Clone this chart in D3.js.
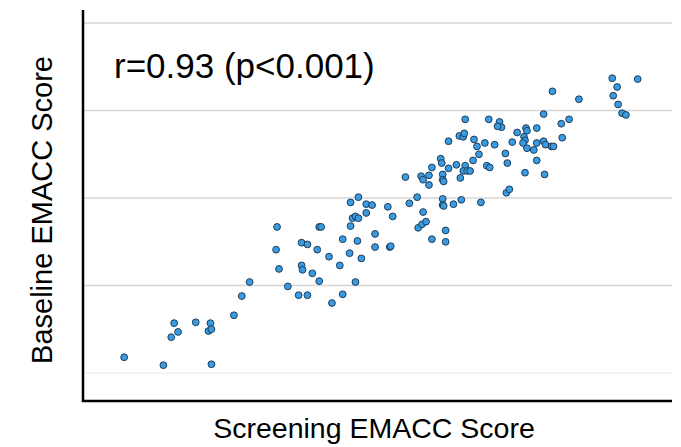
<!DOCTYPE html>
<html>
<head>
<meta charset="utf-8">
<script src="https://cdn.jsdelivr.net/npm/d3@7"></script>
<style>
  body { margin: 0; background: #fff; }
  text { font-family: "Liberation Sans", Arial, sans-serif; fill: #000; }
</style>
</head>
<body>
<div id="chart"></div>
<script>
// screening (x) vs baseline (y) scores
var screening = [
  -2.59, -2.19, -1.70, -2.11, -2.08, -2.04, -1.86, -1.71, -1.73, -1.70, -1.47, -1.39, -1.31,
  -1.03, -1.04, -1.01, -0.92, -0.81, -0.72, -0.78, -0.72, -0.78, -0.77, -0.67, -0.60, -0.58,
  -0.62, -0.60, -0.50, -0.47, -0.36, -0.39, -0.36, -0.29, -0.23, -0.17, -0.21, -0.28, -0.26,
  -0.23, -0.20, -0.12, -0.28, -0.20, -0.12, -0.06, -0.03, -0.03, 0.10, 0.15, 0.12, 0.13,
  0.32, 0.40, 0.46, 0.41, 0.45, 0.49, 0.55, 0.69, 0.69, 0.66, 0.66, 0.67, 0.77, 0.85, 1.05,
  1.31, 1.34,
  0.28, 0.44, 0.46, 0.52, 0.55, 0.52, 0.64, 0.65, 0.66, 0.66, 0.67, 0.72, 0.80, 0.89, 0.87,
  0.91, 0.94, 0.84, 0.97, 1.03, 1.11, 1.14,
  0.89, 1.13, 1.24, 1.26, 1.22, 0.72, 0.83, 0.87, 0.88, 0.98, 1.01, 1.09, 1.19, 1.37, 1.42,
  1.51, 1.52, 1.49, 1.50, 1.48, 1.52, 1.62, 1.62, 1.59, 1.62, 1.30, 1.32, 1.50, 1.70, 1.69,
  1.71, 1.77, 1.79, 2.39, 2.65, 2.44, 2.40, 2.45, 2.49, 2.53, 1.78, 2.05, 1.69, 1.95, 1.87,
  1.88
];
var baseline = [
  -1.82, -1.91, -1.90, -1.59, -1.43, -1.53, -1.42, -1.43, -1.52, -1.50, -1.34, -1.12, -0.96,
  -0.33, -0.59, -0.81, -1.01, -1.11, -1.11, -0.51, -0.53, -0.77, -0.82, -0.86, -0.33, -0.33,
  -0.59, -0.95, -0.67, -1.20, -0.47, -0.77, -1.10, -0.63, -0.96, -0.69, -0.49, -0.32, -0.23,
  -0.21, -0.23, -0.17, -0.05, 0.01, -0.07, -0.08, -0.41, -0.56, -0.10, -0.21, -0.56, -0.55,
  -0.06, 0.01, -0.16, -0.34, -0.30, -0.27, -0.47, -0.37, -0.50, -0.01, -0.08, -0.09, -0.07,
  -0.02, -0.05, 0.06, 0.10,
  0.24, 0.25, 0.21, 0.26, 0.35, 0.15, 0.45, 0.40, 0.27, 0.21, 0.19, 0.34, 0.38, 0.37, 0.31,
  0.31, 0.31, 0.23, 0.43, 0.50, 0.37, 0.35,
  0.90, 0.90, 0.87, 0.81, 0.82, 0.65, 0.71, 0.70, 0.74, 0.67, 0.59, 0.63, 0.61, 0.64, 0.75,
  0.80, 0.77, 0.70, 0.66, 0.63, 0.57, 0.80, 0.63, 0.55, 0.43, 0.51, 0.40, 0.29, 0.27, 0.65,
  0.61, 0.59, 0.59, 1.37, 1.36, 1.27, 1.17, 1.07, 0.97, 0.95, 1.22, 1.13, 0.96, 0.90, 0.85,
  0.69
];
var gridValues = [-2, -1, 0, 1, 2];
var statLabel = "r=0.93 (p<0.001)";
var xTitle = "Screening EMACC Score";
var yTitle = "Baseline EMACC Score";

var width = 681, height = 447;

var data = screening.map(function (s, i) { return { x: s, y: baseline[i] }; });

var svg = d3.select("#chart").append("svg")
  .attr("width", width)
  .attr("height", height);

var x = d3.scaleLinear().domain([-3, 3]).range([84, 672]);
var y = d3.scaleLinear().domain([-2.32, 2.15]).range([401, 10]);

// horizontal gridlines, no tick labels
svg.append("g")
  .selectAll("line")
  .data(gridValues)
  .enter().append("line")
  .attr("x1", 84)
  .attr("x2", 672)
  .attr("y1", function (d) { return y(d); })
  .attr("y2", function (d) { return y(d); })
  .attr("stroke", function (d) { return d === -2 ? "#f1f1f1" : "#d6d6d6"; })
  .attr("stroke-width", 1.5);

svg.append("g")
  .selectAll("circle")
  .data(data)
  .enter().append("circle")
  .attr("cx", function (d) { return x(d.x); })
  .attr("cy", function (d) { return y(d.y); })
  .attr("r", 3.4)
  .attr("fill", "#3a9be0")
  .attr("stroke", "#1c3d5c")
  .attr("stroke-width", 1);

// axis lines
var xAxis = d3.axisBottom(x).tickValues([]).tickSize(0);
svg.append("g")
  .attr("transform", "translate(0,401)")
  .call(xAxis)
  .call(function (g) {
    g.select(".domain").attr("d", "M82,0H672").attr("stroke", "#000").attr("stroke-width", 2.5);
  });

var yAxis = d3.axisLeft(y).tickValues([]).tickSize(0);
svg.append("g")
  .attr("transform", "translate(83,0)")
  .call(yAxis)
  .call(function (g) {
    g.select(".domain").attr("d", "M0,10V402").attr("stroke", "#000").attr("stroke-width", 2.5);
  });

svg.append("text")
  .attr("x", 114)
  .attr("y", 78)
  .style("font-size", "35px")
  .text(statLabel);

svg.append("text")
  .attr("x", 374)
  .attr("y", 438)
  .attr("text-anchor", "middle")
  .style("font-size", "28.5px")
  .text(xTitle);

svg.append("text")
  .attr("transform", "translate(52,210) rotate(-90)")
  .attr("text-anchor", "middle")
  .style("font-size", "29px")
  .text(yTitle);
</script>
</body>
</html>
